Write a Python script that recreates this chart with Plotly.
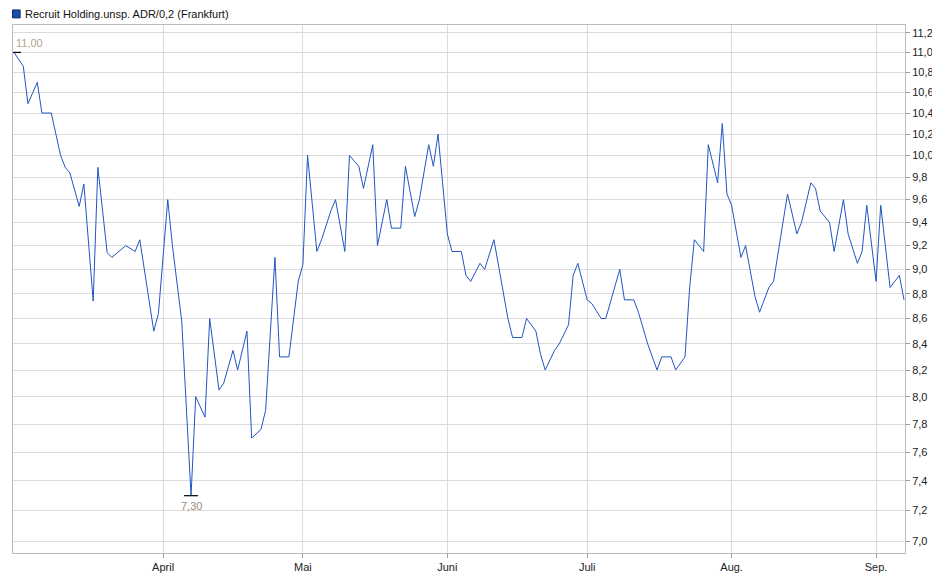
import plotly.graph_objects as go
import math

dates = ["2024-02-29","2024-03-01","2024-03-02","2024-03-03","2024-03-05","2024-03-06","2024-03-08","2024-03-10",
"2024-03-11","2024-03-12","2024-03-14","2024-03-15","2024-03-17","2024-03-18","2024-03-20","2024-03-21",
"2024-03-24","2024-03-26","2024-03-27","2024-03-30","2024-03-31",
"2024-04-02","2024-04-03","2024-04-05","2024-04-07","2024-04-08","2024-04-10","2024-04-11","2024-04-13",
"2024-04-14","2024-04-16","2024-04-17","2024-04-19","2024-04-20","2024-04-22","2024-04-23","2024-04-25",
"2024-04-26","2024-04-28","2024-04-30","2024-05-01",
"2024-05-02","2024-05-04","2024-05-05","2024-05-07","2024-05-08","2024-05-10","2024-05-11","2024-05-13",
"2024-05-14","2024-05-16","2024-05-17","2024-05-19","2024-05-20","2024-05-22","2024-05-23","2024-05-25",
"2024-05-26","2024-05-28","2024-05-29","2024-05-30","2024-06-01",
"2024-06-02","2024-06-04","2024-06-05","2024-06-06","2024-06-08","2024-06-09","2024-06-11","2024-06-14",
"2024-06-15","2024-06-17","2024-06-18","2024-06-20","2024-06-21","2024-06-22","2024-06-24","2024-06-25",
"2024-06-27","2024-06-28","2024-06-29","2024-07-01",
"2024-07-02","2024-07-04","2024-07-05","2024-07-08","2024-07-09","2024-07-11","2024-07-12","2024-07-14",
"2024-07-16","2024-07-17","2024-07-19","2024-07-20","2024-07-22","2024-07-23","2024-07-24","2024-07-26",
"2024-07-27","2024-07-29","2024-07-30","2024-07-31",
"2024-08-01","2024-08-03","2024-08-04","2024-08-06","2024-08-07","2024-08-09","2024-08-10","2024-08-13",
"2024-08-15","2024-08-16","2024-08-18","2024-08-19","2024-08-20","2024-08-22","2024-08-23","2024-08-25",
"2024-08-26","2024-08-28","2024-08-29","2024-08-30","2024-09-01",
"2024-09-02","2024-09-04","2024-09-06","2024-09-07"]

prices = [11.0,10.93,10.86,10.49,10.70,10.4,10.4,10.0,
9.89,9.84,9.54,9.74,8.74,9.89,9.14,9.10,
9.2,9.15,9.25,8.50,8.64,
9.6,9.2,8.58,7.30,8.0,7.85,8.6,8.05,
8.1,8.35,8.2,8.5,7.7,7.76,7.9,9.1,
8.3,8.3,8.9,9.04,
10.0,9.15,9.25,9.5,9.6,9.15,10.0,9.9,
9.7,10.1,9.2,9.6,9.35,9.35,9.9,9.45,
9.6,10.1,9.9,10.2,9.3,
9.15,9.15,8.95,8.9,9.05,9.0,9.25,8.6,
8.45,8.45,8.6,8.5,8.32,8.2,8.35,8.4,
8.55,8.95,9.05,8.75,
8.72,8.6,8.6,9.0,8.75,8.75,8.65,8.4,
8.2,8.3,8.3,8.2,8.3,8.85,9.25,9.15,
10.1,9.75,10.3,9.65,
9.55,9.1,9.2,8.78,8.65,8.85,8.9,9.65,
9.3,9.4,9.75,9.7,9.5,9.4,9.15,9.6,
9.3,9.05,9.15,9.55,8.9,
9.55,8.85,8.95,8.75]

month_ticks = ["2024-04-01","2024-05-01","2024-06-01","2024-07-01","2024-08-01","2024-09-01"]
month_labels = ["April","Mai","Juni","Juli","Aug.","Sep."]
y_ticks = [round(7.0 + 0.2*i, 1) for i in range(22)]
y_labels = [f"{v:.1f}".replace(".", ",") for v in y_ticks]
series_name = "Recruit Holding.unsp. ADR/0,2 (Frankfurt)"
hi_date, hi_val, hi_label = "2024-02-29", 11.0, "11,00"
lo_date, lo_val, lo_label = "2024-04-07", 7.30, "7,30"

blue = "#1f56c3"
fig = go.Figure()
fig.add_trace(go.Scatter(x=dates, y=prices, mode="lines", line=dict(color=blue, width=1),
                         showlegend=False, hoverinfo="skip"))
fig.add_trace(go.Scatter(x=[hi_date, lo_date], y=[hi_val, lo_val], mode="markers",
                         marker=dict(symbol="line-ew", size=10, line=dict(color="black", width=1.2)),
                         showlegend=False, hoverinfo="skip"))
fig.add_annotation(x=hi_date, y=math.log10(hi_val), text=hi_label, showarrow=False,
                   xanchor="left", yanchor="bottom", yshift=1,
                   font=dict(color="#b4a48c", size=11, family="Liberation Sans"))
fig.add_annotation(x=lo_date, y=math.log10(lo_val), text=lo_label, showarrow=False,
                   xanchor="center", yanchor="top", yshift=-2,
                   font=dict(color="#a08c78", size=11, family="Liberation Sans"))
# legend
fig.add_shape(type="rect", xref="paper", yref="paper", x0=-0.0005, x1=0.008, y0=1.0135, y1=1.0285,
              fillcolor="#1c4fa8", line=dict(color="#0a2a6a", width=1))
fig.add_annotation(xref="paper", yref="paper", x=0.011, y=1.021, text=series_name, showarrow=False,
                   xanchor="left", yanchor="middle", font=dict(size=11, color="#111"))

fig.update_layout(
    width=940, height=579, margin=dict(l=5, r=43, t=17, b=34),
    paper_bgcolor="white", plot_bgcolor="white", showlegend=False,
    font=dict(family="Liberation Sans", size=11, color="#222"),
    xaxis=dict(type="date", range=["2024-02-28 19:00", "2024-09-07 05:00"], automargin=False,
               tickvals=month_ticks, ticktext=month_labels, ticks="outside", ticklen=4,
               tickcolor="#999", showgrid=True, gridcolor="#dcdcdc", gridwidth=1,
               showline=True, linecolor="#bbb", mirror=True, zeroline=False),
    yaxis=dict(type="log", side="right", range=[0.8403, 1.0524], automargin=False,
               tickvals=y_ticks, ticktext=y_labels, ticks="outside", ticklen=4,
               tickcolor="#999", showgrid=True, gridcolor="#dcdcdc", gridwidth=1,
               showline=True, linecolor="#bbb", mirror=True, zeroline=False),
)
fig.write_html("out.html")
